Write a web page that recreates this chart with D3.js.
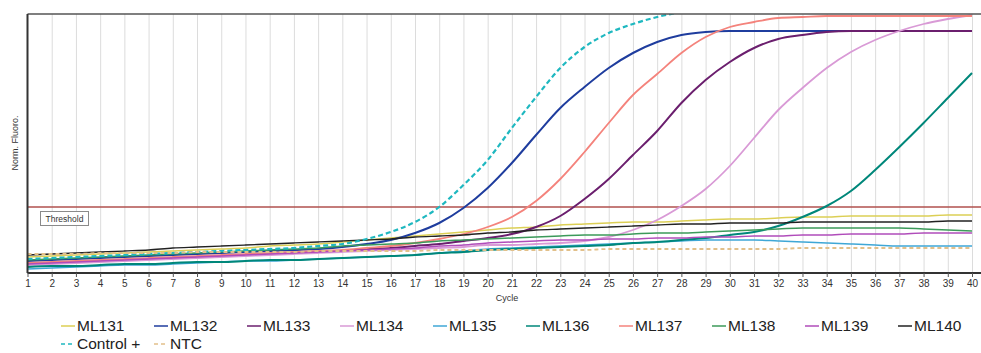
<!DOCTYPE html>
<html>
<head>
<meta charset="utf-8">
<script src="https://cdn.jsdelivr.net/npm/d3@7"></script>
<style>
  body { margin: 0; background: #fff; }
  svg { display: block; }
</style>
</head>
<body>
<script>
// size of the picture
let width = 981;
let height = 353;

// plot box
let plotLeft = 27.5, plotRight = 981, plotTop = 14, plotBottom = 273;

// cycles 1..40
let cycles = d3.range(1, 41);
let tickLabels = cycles.map(String);

// normalised fluorescence, arbitrary units (no ticks on the y axis)
let threshold = 66;

let ml131 = [16,17,18,19,20,21,22,23,24,25,27,28,29,31,33,35,37,39,41,43,45,46,48,49,50,51,51,52,53,54,54,55,56,56,57,57,57,57,58,58];
let ml132 = [12,13,14,15,16,17,18,19,20,21,22,23,24,26,29,33,40,50,65,85,110,138,165,186,205,220,231,238,241,242,242,242,242,242,242,242,242,242,242,242];
let ml133 = [9,10,11,12,13,14,15,16,17,18,19,20,21,22,24,25,27,29,32,35,39,46,57,74,94,118,142,170,193,211,225,234,238,241,242,242,242,242,242,242];
let ml134 = [8,9,10,11,12,13,14,15,16,17,18,19,20,21,22,23,24,25,26,28,28,29,30,32,36,43,53,67,84,107,135,163,185,205,221,233,242,249,254,258];
let ml135 = [4,5,6,7,8,8,9,10,11,12,12,13,14,15,16,17,18,20,22,24,25,26,27,28,29,30,31,32,33,33,33,32,31,30,29,28,27,27,27,27];
let ml136 = [6,7,7,8,9,9,10,11,11,12,13,13,14,15,16,17,18,20,21,23,24,25,26,27,28,30,31,33,35,38,41,47,56,67,82,103,126,150,175,200];
let ml137 = [10,11,12,13,14,15,16,17,18,19,20,21,22,23,25,27,30,34,39,46,56,72,94,121,150,178,199,220,236,246,251,255,256,257,257,257,257,257,257,257];
let ml138 = [13,14,15,16,17,18,19,20,21,22,23,24,25,27,28,29,30,32,33,34,35,36,37,38,38,39,40,40,41,42,43,44,45,45,45,45,45,44,43,42];
let ml139 = [9,10,11,12,13,14,15,16,17,18,19,20,21,22,23,24,25,27,28,30,31,32,33,33,34,34,35,35,36,36,37,37,38,38,39,39,39,40,40,40];
let ml140 = [18,19,20,21,22,23,25,26,27,28,29,30,31,32,33,34,36,37,38,40,41,43,44,45,46,47,48,49,49,50,50,50,51,51,51,51,51,51,52,52];
let controlPlus = [14,15,16,17,18,19,20,21,22,23,24,25,27,29,34,41,51,66,88,113,145,176,205,226,240,249,256,261,265,267,267,267,267,267,267,267,267,267,267,267];
let ntc = [19,19,19,20,20,20,20,21,21,21,21,21,22,22,22,22,22,23,23,23,23,23,23,23,24,24,24,24,24,24,24,24,25,25,25,25,25,25,25,25];

let seriesNames = ["ML131","ML132","ML133","ML134","ML135","ML136","ML137","ML138","ML139","ML140","Control +","NTC"];
let seriesValues = [ml131, ml132, ml133, ml134, ml135, ml136, ml137, ml138, ml139, ml140, controlPlus, ntc];
let seriesColors = ["#dccf55","#1f3d9e","#6b1f6e","#d99ad6","#3fa7d6","#00877a","#f4837c","#3c9a5a","#b04cba","#222222","#1fb8c0","#e2c08a"];
let seriesDash = [null,null,null,null,null,null,null,null,null,null,"5,3","4,3"];
let seriesWidth = [1.5,2,2,1.8,1.5,2,1.8,1.5,1.5,1.3,2.2,1.8];

let x = d3.scaleLinear().domain([1, 40]).range([plotLeft, 972]);
let y = d3.scaleLinear().domain([0, 259]).range([plotBottom, plotTop]);

let svg = d3.select('body').append('svg')
  .attr('width', width)
  .attr('height', height);

svg.append('defs').append('clipPath').attr('id', 'plot')
  .append('rect').attr('x', plotLeft).attr('y', plotTop).attr('width', plotRight - plotLeft).attr('height', plotBottom - plotTop);

// vertical grid
svg.append('g')
  .attr('transform', `translate(0,${plotBottom})`)
  .call(d3.axisBottom(x).tickValues(cycles.slice(1)).tickSize(-(plotBottom - plotTop)).tickFormat(''))
  .call(g => g.select('.domain').remove())
  .call(g => g.selectAll('line').attr('stroke', '#dcdcdc').attr('stroke-width', 1));

// threshold
svg.append('line')
  .attr('x1', plotLeft).attr('x2', plotRight)
  .attr('y1', y(threshold)).attr('y2', y(threshold))
  .attr('stroke', '#b0504e').attr('stroke-width', 1.3);

let thr = svg.append('g');
thr.append('rect')
  .attr('x', 40.5).attr('y', 211.5).attr('width', 48).attr('height', 14)
  .attr('fill', '#fff').attr('stroke', '#8a8a8a').attr('stroke-width', 1);
thr.append('text')
  .attr('x', 64.5).attr('y', 221.5)
  .attr('text-anchor', 'middle')
  .attr('font-family', 'Liberation Sans, Arial, sans-serif')
  .attr('font-size', 8.5)
  .attr('fill', '#333')
  .text('Threshold');

// curves
let line = d3.line()
  .x((d, i) => x(cycles[i]))
  .y(d => y(d))
  .curve(d3.curveMonotoneX);

svg.append('g').attr('clip-path', 'url(#plot)')
  .selectAll('path')
  .data(seriesValues)
  .join('path')
  .attr('d', d => line(d))
  .attr('fill', 'none')
  .attr('stroke', (d, i) => seriesColors[i])
  .attr('stroke-width', (d, i) => seriesWidth[i])
  .attr('stroke-dasharray', (d, i) => seriesDash[i]);

// frame
svg.append('line').attr('x1', plotLeft).attr('x2', plotRight).attr('y1', plotTop).attr('y2', plotTop)
  .attr('stroke', '#555').attr('stroke-width', 1.5);
svg.append('line').attr('x1', plotLeft).attr('x2', plotLeft).attr('y1', plotTop).attr('y2', plotBottom)
  .attr('stroke', '#333').attr('stroke-width', 2);

// x axis
let xAxis = svg.append('g')
  .attr('transform', `translate(0,${plotBottom})`)
  .call(d3.axisBottom(x).tickValues(cycles).tickFormat((d, i) => tickLabels[i]).tickSize(4).tickPadding(3))
  .call(g => g.select('.domain').attr('d', `M${plotLeft},0H${plotRight}`).attr('stroke', '#333').attr('stroke-width', 2.2));
xAxis.selectAll('text')
  .attr('font-family', 'Liberation Sans, Arial, sans-serif')
  .attr('font-size', 10)
  .attr('fill', '#333');
xAxis.selectAll('.tick line').attr('stroke', '#555');

svg.append('text')
  .attr('x', 507).attr('y', 301)
  .attr('text-anchor', 'middle')
  .attr('font-family', 'Liberation Sans, Arial, sans-serif')
  .attr('font-size', 9)
  .attr('fill', '#333')
  .text('Cycle');

svg.append('text')
  .attr('transform', 'translate(18,143) rotate(-90)')
  .attr('text-anchor', 'middle')
  .attr('font-family', 'Liberation Sans, Arial, sans-serif')
  .attr('font-size', 9)
  .attr('fill', '#333')
  .text('Norm. Fluoro.');

// legend
let legend = svg.append('g')
  .selectAll('g')
  .data(seriesNames)
  .join('g')
  .attr('transform', (d, i) => `translate(${60 + (i % 10) * 93},${i < 10 ? 331 : 349})`);

legend.append('line')
  .attr('x1', 1).attr('x2', 15).attr('y1', -5).attr('y2', -5)
  .attr('stroke', (d, i) => seriesColors[i])
  .attr('stroke-width', 1.5)
  .attr('stroke-dasharray', (d, i) => seriesDash[i] ? '4,3' : null);

legend.append('text')
  .attr('x', 17).attr('y', 0)
  .attr('font-family', 'Liberation Sans, Arial, sans-serif')
  .attr('font-size', 15.5)
  .attr('fill', '#222')
  .text(d => d);
</script>
</body>
</html>
